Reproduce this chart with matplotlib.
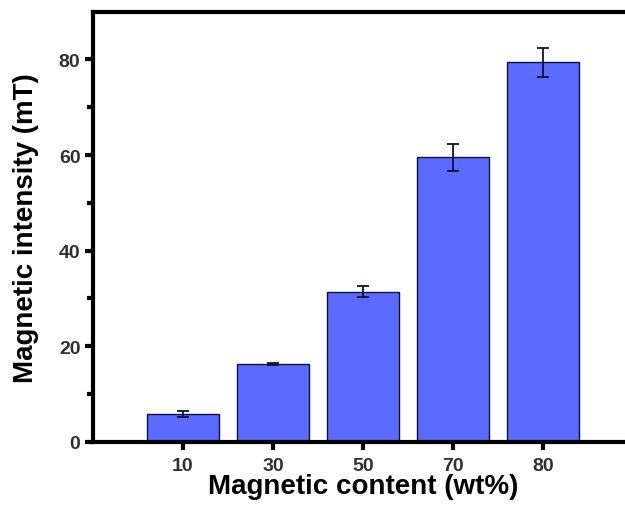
import matplotlib
matplotlib.use("Agg")
import matplotlib.pyplot as plt
import numpy as np

# magnetic content (wt%) vs magnetic intensity (mT)
categories = ["10", "30", "50", "70", "80"]
intensity = [5.8, 16.3, 31.4, 59.5, 79.4]
errors = [0.6, 0.2, 1.1, 2.8, 3.0]

plt.rcParams["font.family"] = ["Liberation Sans", "DejaVu Sans"]
plt.rcParams["font.weight"] = "bold"

fig = plt.figure(figsize=(6.25, 5.06), dpi=100)
ax = fig.add_axes([0.1488, 0.125, 0.864, 0.85])

x = np.arange(1, len(categories) + 1)
ax.bar(x, intensity, width=0.8, color="#5b6bff", edgecolor="#101040", linewidth=1.0,
       yerr=errors, error_kw=dict(ecolor="#101030", elinewidth=1.3, capsize=4, capthick=1.3))

ax.set_xlim(0, 6)
ax.set_ylim(0, 90)
ax.set_xticks(x)
ax.set_xticklabels(categories)
ax.set_yticks([0, 20, 40, 60, 80])
ax.set_yticks([10, 30, 50, 70], minor=True)

for side in ["left", "bottom", "top", "right"]:
    ax.spines[side].set_linewidth(3)
ax.tick_params(axis="both", which="major", direction="out", length=6, width=3,
               labelsize=14, labelcolor="#303030", pad=3)
ax.tick_params(axis="x", which="major", pad=5)
ax.tick_params(axis="y", which="minor", direction="out", length=4, width=3)

ax.set_xlabel("Magnetic content (wt%)", fontsize=20, fontweight="bold", labelpad=-1)
ax.set_ylabel("Magnetic intensity (mT)", fontsize=20, fontweight="bold", labelpad=14)

fig.savefig("out.png", dpi=100)
